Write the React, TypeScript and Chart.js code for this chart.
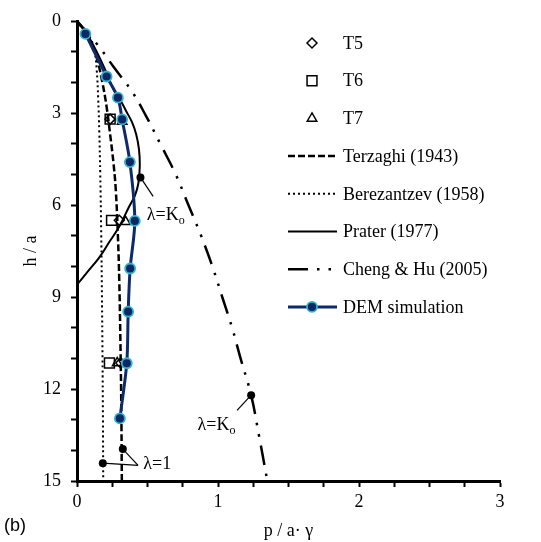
import React, { useEffect, useRef } from 'react';
import { Chart, registerables } from 'chart.js';

Chart.register(...registerables);

const SERIF = '"Liberation Serif", "Times New Roman", serif';
const SANS = '"Liberation Sans", Arial, sans-serif';

// ---- data (p / a·γ  vs  h / a) ----
const demP = [0.06, 0.21, 0.29, 0.32, 0.375, 0.41, 0.377, 0.363, 0.353, 0.304];
const demH = [0.42, 1.81, 2.5, 3.21, 4.6, 6.52, 8.07, 9.48, 11.16, 12.96];

const t5P = [0.235, 0.3, 0.31];
const t5H = [3.2, 6.5, 11.15];
const t6P = [0.235, 0.245, 0.23];
const t6H = [3.2, 6.5, 11.15];
const t7P = [0.32, 0.345, 0.285];
const t7H = [3.28, 6.55, 11.15];

const terzP = [0, 0.05, 0.1, 0.14, 0.18, 0.21, 0.235, 0.258, 0.275, 0.29, 0.3, 0.308, 0.314, 0.318];
const terzH = [0, 0.3, 0.7, 1.2, 2.0, 2.8, 3.7, 4.6, 5.5, 7.0, 8.5, 10.5, 12.5, 15];

const berP = [0, 0.06, 0.1, 0.125, 0.14, 0.15, 0.158, 0.165, 0.172, 0.177, 0.181, 0.184, 0.186];
const berH = [0, 0.3, 0.6, 1.0, 1.6, 2.5, 3.6, 5, 7, 9, 11, 13, 15];

const praP = [0, 0.08, 0.15, 0.21, 0.26, 0.31, 0.35, 0.39, 0.42, 0.44, 0.445, 0.435, 0.41, 0.37, 0.3, 0.23, 0.16, 0.08, 0];
const praH = [0, 0.5, 1.1, 1.7, 2.24, 2.6, 2.95, 3.3, 3.7, 4.2, 4.75, 5.3, 5.7, 6.05, 6.7, 7.2, 7.7, 8.15, 8.6];

const chP = [0, 0.15, 0.26, 0.39, 0.49, 0.59, 0.7, 0.79, 0.88, 0.96, 1.03, 1.1, 1.16, 1.235, 1.29, 1.35];
const chH = [0, 0.8, 1.5, 2.3, 3.1, 4.0, 5.0, 6.0, 7.0, 8.0, 9.0, 10.0, 11.0, 12.2, 13.5, 15];

// λ marker dots
const dotP = [0.45, 1.235, 0.183, 0.325];
const dotH = [5.1, 12.2, 14.42, 13.96];
// leader line ends (from each dot)
const leadP = [0.54, 1.135, 0.433, 0.433];
const leadH = [5.72, 12.7, 14.49, 14.49];

// λ labels
const lamText = ['λ=K', 'λ=K', 'λ=1'];
const lamSub = ['o', 'o', ''];
const lamP = [0.495, 0.855, 0.47];
const lamH = [6.5, 13.35, 14.62];

const legendLabels = ['T5', 'T6', 'T7', 'Terzaghi (1943)', 'Berezantzev (1958)', 'Prater (1977)', 'Cheng & Hu (2005)', 'DEM simulation'];

const zip = (p: number[], h: number[]) => p.map((v, i) => ({ x: v, y: h[i] }));

function drawMarker(ctx: CanvasRenderingContext2D, style: string, x: number, y: number, r: number) {
  ctx.beginPath();
  if (style === 'rect') {
    const s = Math.SQRT1_2 * r;
    ctx.rect(x - s, y - s, 2 * s, 2 * s);
  } else if (style === 'rectRot') {
    ctx.moveTo(x - r, y);
    ctx.lineTo(x, y - r);
    ctx.lineTo(x + r, y);
    ctx.lineTo(x, y + r);
    ctx.closePath();
  } else if (style === 'triangle') {
    for (let k = 0; k < 3; k++) {
      const a = (k * 2 * Math.PI) / 3;
      const px = x + Math.sin(a) * r;
      const py = y - Math.cos(a) * r;
      if (k === 0) ctx.moveTo(px, py);
      else ctx.lineTo(px, py);
    }
    ctx.closePath();
  } else {
    ctx.arc(x, y, r, 0, Math.PI * 2);
  }
}

const overlayPlugin = {
  id: 'overlay',
  afterDatasetsDraw(chart: any) {
    const ctx: CanvasRenderingContext2D = chart.ctx;
    const xs = chart.scales.x;
    const ys = chart.scales.y;
    ctx.save();
    ctx.fillStyle = '#000';
    ctx.textBaseline = 'alphabetic';
    ctx.textAlign = 'left';
    // λ labels
    lamText.forEach((t, i) => {
      const x = xs.getPixelForValue(lamP[i]);
      const y = ys.getPixelForValue(lamH[i]);
      ctx.font = `18px ${SERIF}`;
      ctx.fillText(t, x, y);
      if (lamSub[i]) {
        const w = ctx.measureText(t).width;
        ctx.font = `12px ${SERIF}`;
        ctx.fillText(lamSub[i], x + w, y + 4);
      }
    });

    // legend
    const x0 = 288, x1 = 337, xm = 312, xt = 343;
    const top = 43, step = 37.7;
    legendLabels.forEach((lab, i) => {
      const ds = chart.data.datasets.find((d: any) => d.label === lab);
      if (!ds) return;
      const y = top + i * step;
      if (ds.showLine) {
        ctx.save();
        ctx.beginPath();
        ctx.strokeStyle = ds.borderColor;
        ctx.lineWidth = ds.borderWidth;
        ctx.setLineDash(ds.borderDash || []);
        ctx.moveTo(x0, y);
        ctx.lineTo(x1, y);
        ctx.stroke();
        ctx.restore();
      }
      if (ds.pointRadius > 0) {
        ctx.save();
        drawMarker(ctx, ds.pointStyle || 'circle', xm, y, ds.pointRadius);
        ctx.fillStyle = ds.pointBackgroundColor;
        ctx.fill();
        ctx.strokeStyle = ds.pointBorderColor;
        ctx.lineWidth = ds.pointBorderWidth;
        ctx.setLineDash([]);
        ctx.stroke();
        ctx.restore();
      }
      ctx.font = `18px ${SERIF}`;
      ctx.fillStyle = '#000';
      ctx.textBaseline = 'middle';
      ctx.fillText(lab, xt, y + 1);
    });

    // panel tag
    ctx.font = `18px ${SANS}`;
    ctx.textBaseline = 'alphabetic';
    ctx.fillText('(b)', 4, 531);
    ctx.restore();
  },
};

export default function App() {
  const ref = useRef<HTMLCanvasElement | null>(null);

  useEffect(() => {
    if (!ref.current) return;
    const curve = (label: string, p: number[], h: number[], dash: number[], width: number) => ({
      label,
      data: zip(p, h),
      showLine: true,
      borderColor: '#000',
      borderWidth: width,
      borderDash: dash,
      tension: 0.4,
      pointRadius: 0,
      pointHoverRadius: 0,
      fill: false,
    });
    const marker = (label: string, p: number[], h: number[], style: string, r: number) => ({
      label,
      data: zip(p, h),
      showLine: false,
      pointStyle: style,
      pointRadius: r,
      pointHoverRadius: r,
      pointBackgroundColor: 'rgba(0,0,0,0)',
      pointBorderColor: '#000',
      pointBorderWidth: 1.5,
      borderColor: '#000',
    });
    const leaders = dotP.map((p, i) => ({
      label: 'leader' + i,
      data: [{ x: p, y: dotH[i] }, { x: leadP[i], y: leadH[i] }],
      showLine: true,
      borderColor: '#000',
      borderWidth: 1.2,
      pointRadius: 0,
      order: 5,
    }));

    const datasets: any[] = [
      {
        label: 'DEM simulation',
        data: zip(demP, demH),
        showLine: true,
        borderColor: '#0f2a6b',
        borderWidth: 3,
        tension: 0.3,
        pointStyle: 'circle',
        pointRadius: 5,
        pointHoverRadius: 5,
        pointBackgroundColor: '#0c2766',
        pointBorderColor: '#34b3cc',
        pointBorderWidth: 1.8,
        order: 0,
      },
      { ...marker('T5', t5P, t5H, 'rectRot', 5), order: 2 },
      { ...marker('T6', t6P, t6H, 'rect', 7), order: 2 },
      { ...marker('T7', t7P, t7H, 'triangle', 5.5), order: 2 },
      { ...curve('Terzaghi (1943)', terzP, terzH, [7, 3], 2.5), order: 4 },
      { ...curve('Berezantzev (1958)', berP, berH, [2, 3], 2), order: 4 },
      { ...curve('Prater (1977)', praP, praH, [], 2), order: 3 },
      { ...curve('Cheng & Hu (2005)', chP, chH, [20, 9, 2.5, 9, 2.5, 9], 2.5), order: 4 },
      {
        label: 'lambda dots',
        data: zip(dotP, dotH),
        showLine: false,
        pointStyle: 'circle',
        pointRadius: 4,
        pointHoverRadius: 4,
        pointBackgroundColor: '#000',
        pointBorderColor: '#000',
        pointBorderWidth: 0,
        order: 1,
      },
      ...leaders,
    ];

    const axisFont = { family: SERIF, size: 18 };
    const chart = new Chart(ref.current, {
      type: 'scatter',
      data: { datasets },
      plugins: [overlayPlugin],
      options: {
        animation: false,
        responsive: false,
        devicePixelRatio: 1,
        events: [],
        layout: { padding: { top: 21, right: 41, left: 0, bottom: 0 } },
        plugins: { legend: { display: false }, tooltip: { enabled: false } },
        scales: {
          x: {
            type: 'linear',
            position: 'bottom',
            min: 0,
            max: 3,
            afterFit: (s: any) => {
              s.height = 61;
            },
            ticks: {
              stepSize: 0.25,
              autoSkip: false,
              maxRotation: 0,
              padding: 4,
              color: '#000',
              font: axisFont,
              callback: (v: any) => (Number.isInteger(v) ? String(v) : ''),
            },
            grid: { drawOnChartArea: false, drawTicks: true, tickLength: 6, tickColor: '#000', tickWidth: 2, color: '#000' },
            border: { display: true, color: '#000', width: 3 },
            title: { display: true, text: 'p / a· γ', color: '#000', font: axisFont, padding: { top: 0, bottom: 0 } },
          },
          y: {
            type: 'linear',
            position: 'left',
            reverse: true,
            min: 0,
            max: 15,
            afterFit: (s: any) => {
              s.width = 77;
            },
            ticks: {
              stepSize: 1,
              autoSkip: false,
              padding: 10,
              color: '#000',
              font: axisFont,
              callback: (v: any) => (v % 3 === 0 ? String(v) : ''),
            },
            grid: { drawOnChartArea: false, drawTicks: true, tickLength: 6, tickColor: '#000', tickWidth: 2, color: '#000' },
            border: { display: true, color: '#000', width: 3 },
            title: { display: true, text: 'h / a', color: '#000', font: axisFont, padding: { top: 20, bottom: 0 } },
          },
        },
      } as any,
    });
    return () => chart.destroy();
  }, []);

  return (
    <div style={{ position: 'absolute', left: 0, top: 0, width: 541, height: 542, background: '#fff' }}>
      <canvas ref={ref} width={541} height={542} />
    </div>
  );
}
